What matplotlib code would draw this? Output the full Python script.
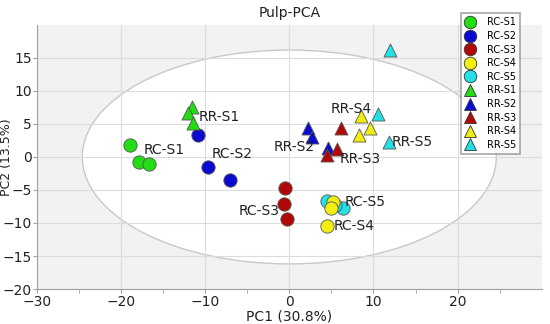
import numpy as np
import matplotlib
matplotlib.use("Agg")
import matplotlib.pyplot as plt
from matplotlib.patches import Ellipse
from matplotlib.lines import Line2D

# groups and scores
groups = ["RC-S1", "RC-S2", "RC-S3", "RC-S4", "RC-S5",
          "RR-S1", "RR-S2", "RR-S3", "RR-S4", "RR-S5"]
colors = ["#22dd11", "#0a0ad0", "#b00808", "#f2ee10", "#22e0e6",
          "#22dd11", "#0a0ad0", "#b00808", "#f2ee10", "#22e0e6"]
markers = ["o"] * 5 + ["^"] * 5

pc1 = {
    "RC-S1": [-18.9, -17.9, -16.7],
    "RC-S2": [-10.8, -9.7, -7.1],
    "RC-S3": [-0.5, -0.6, -0.3],
    "RC-S5": [4.5, 6.4, 5.4],
    "RC-S4": [5.2, 4.9, 4.5],
    "RR-S1": [-11.6, -12.0, -11.4],
    "RR-S2": [2.2, 2.7, 4.6],
    "RR-S3": [6.1, 5.7, 4.5],
    "RR-S4": [8.5, 9.6, 8.3],
    "RR-S5": [12.0, 10.6, 11.8],
}
pc2 = {
    "RC-S1": [1.8, -0.8, -1.1],
    "RC-S2": [3.3, -1.5, -3.5],
    "RC-S3": [-4.7, -7.1, -9.4],
    "RC-S5": [-6.6, -7.8, -7.2],
    "RC-S4": [-6.8, -7.7, -10.4],
    "RR-S1": [7.6, 6.6, 5.1],
    "RR-S2": [4.4, 3.0, 1.3],
    "RR-S3": [4.4, 1.2, 0.3],
    "RR-S4": [6.2, 4.4, 3.3],
    "RR-S5": [16.2, 6.5, 2.3],
}
# label text positions (x, y, horizontal alignment)
label_pos = {
    "RC-S1": (-17.3, 1.1, "left"),
    "RC-S2": (-9.2, 0.4, "left"),
    "RC-S3": (-1.2, -8.2, "right"),
    "RC-S4": (5.3, -10.4, "left"),
    "RC-S5": (6.6, -6.8, "left"),
    "RR-S1": (-10.8, 6.0, "left"),
    "RR-S2": (3.0, 1.5, "right"),
    "RR-S3": (6.0, -0.3, "left"),
    "RR-S4": (7.4, 7.3, "center"),
    "RR-S5": (12.2, 2.3, "left"),
}

fig = plt.figure(figsize=(5.5, 3.24), dpi=100)
ax = fig.add_axes([0.067, 0.108, 0.918, 0.815])
ax.set_facecolor("#f2f2f2")

ell = Ellipse((0, 0), 49.2, 32.4, facecolor="white", edgecolor="#c8c8c8",
              linewidth=1.0, zorder=0.5)
ax.add_patch(ell)

ax.set_xlim(-30, 30)
ax.set_ylim(-20, 20)
ax.set_xticks([-30, -20, -10, 0, 10, 20])
ax.set_yticks([-20, -15, -10, -5, 0, 5, 10, 15])
ax.set_xticks(np.arange(-25, 30, 5), minor=True)
ax.grid(True, color="#dcdcdc", linewidth=0.8, zorder=0)
ax.set_axisbelow(True)
for s in ["top", "right"]:
    ax.spines[s].set_visible(False)
for s in ["left", "bottom"]:
    ax.spines[s].set_color("#a0a0a0")
ax.tick_params(axis="both", which="both", colors="#a0a0a0", length=3,
               labelcolor="#222222", labelsize=10)
ax.tick_params(axis="x", which="major", pad=1)
ax.tick_params(axis="y", which="major", pad=0.5)

# draw RC-S5 before RC-S4 so yellow sits on top, like the reference
order = ["RC-S1", "RC-S2", "RC-S3", "RC-S5", "RC-S4",
         "RR-S1", "RR-S2", "RR-S3", "RR-S4", "RR-S5"]
for g in order:
    i = groups.index(g)
    ax.scatter(pc1[g], pc2[g], s=92 if markers[i] == "o" else 88,
               marker=markers[i], c=colors[i], edgecolors="#555555",
               linewidths=0.6, zorder=3)
    lx, ly, ha = label_pos[g]
    ax.text(lx, ly, g, ha=ha, va="center", fontsize=10, color="#222222",
            zorder=4)

ax.set_xlabel("PC1 (30.8%)", fontsize=10, color="#222222", labelpad=1)
fig.text(0.0, 0.108 + 0.815 / 2, "PC2 (13.5%)", rotation=90, ha="left",
         va="center", fontsize=9, color="#222222")
ax.set_title("Pulp-PCA", fontsize=10, color="#222222", pad=6)

handles = [Line2D([], [], marker=markers[i], color="none",
                  markerfacecolor=colors[i], markeredgecolor="#333333",
                  markeredgewidth=0.6, markersize=9, label=groups[i])
           for i in range(len(groups))]
leg = ax.legend(handles=handles, loc="upper left",
                bbox_to_anchor=(0.84, 1.045), fontsize=7, frameon=True,
                fancybox=False, handlelength=0.9, handletextpad=1.3,
                labelspacing=0.37, borderpad=0.45, borderaxespad=0)
leg.get_frame().set_edgecolor("#909090")
leg.get_frame().set_linewidth(1.2)
leg.set_zorder(5)

fig.savefig("out.png", dpi=100)
